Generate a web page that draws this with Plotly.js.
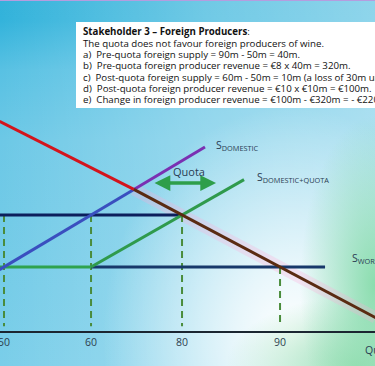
<!DOCTYPE html>
<html>
<head>
<meta charset="utf-8">
<script src="https://cdn.plot.ly/plotly-3.0.1.min.js"></script>
<style>
  html, body { margin: 0; padding: 0; }
  #chart {
    width: 375px; height: 366px;
    background:
      radial-gradient(ellipse 75px 170px at 100% 78%, rgba(135,220,170,0.95), rgba(135,220,170,0)),
      radial-gradient(ellipse 130px 70px at 95% 100%, rgba(150,222,178,0.9), rgba(150,222,178,0)),
      radial-gradient(ellipse 190px 230px at 78% 92%, rgba(255,255,255,1), rgba(255,255,255,0.75) 30%, rgba(255,255,255,0)),
      linear-gradient(to right, rgba(255,255,255,0) 0, rgba(255,255,255,0.3) 55%, rgba(255,255,255,0.45) 100%),
      linear-gradient(to bottom, #32b2da 0, #33b3db 20px, #58c1e3 70px, #6cc8e6 140px, #7acee9 100%);
  }
</style>
</head>
<body>
<div id="chart"></div>
<script>
// Quantity tick labels and their schematic positions on the (not-to-scale) axis
const qLabels = ['50', '60', '80', '90'];
const qPos = [0, 0.967, 1.978, 3.067];

// Prices (€)
const pWorld = 8;
const pQuota = 10;
const pAxis = 5.538;

// Demand curve: red part, then brown part after crossing S domestic
const demandRedQ = [-0.05, 1.443];
const demandRedP = [13.6, 10.983];
const demandBrownQ = [1.443, 4.13];
const demandBrownP = [10.983, 6.047];

// Domestic supply: blue lower part, purple upper part
const sDomBlueQ = [-0.05, 1.443];
const sDomBlueP = [7.897, 10.984];
const sDomPurpleQ = [1.443, 2.233];
const sDomPurpleP = [10.984, 12.618];

// Domestic + quota supply
const sQuotaQ = [0.967, 2.667];
const sQuotaP = [8, 11.36];

// World supply (green left segment, navy right segment)
const worldGreenQ = [-0.05, 0.967];
const worldNavyQ = [0.967, 3.567];

// Price with quota line
const quotaPriceQ = [-0.05, 1.978];

// Quota arrow span
const quotaArrowQ = [1.656, 2.356];
const quotaArrowP = 11.23;

const boxLines = [
  '<b>Stakeholder 3 – Foreign Producers</b>:',
  'The quota does not favour foreign producers of wine.',
  'a)  Pre-quota foreign supply = 90m - 50m = 40m.',
  'b)  Pre-quota foreign producer revenue = €8 x 40m = 320m.',
  'c)  Post-quota foreign supply = 60m - 50m = 10m (a loss of 30m units)',
  'd)  Post-quota foreign producer revenue = €10 x €10m = €100m.',
  'e)  Change in foreign producer revenue = €100m - €320m = - €220m'
];
const boxLineY = [32, 43.3, 54.6, 65.9, 77.2, 88.5, 99.8];

const traces = [];
// pink highlight glow along brown demand
traces.push({x: demandBrownQ, y: demandBrownP, mode: 'lines', line: {color: 'rgba(255,170,215,0.28)', width: 12}, hoverinfo: 'skip'});

// dashed verticals
const dashColor = '#4a8c3c';
[0, 1, 2].forEach(i => {
  traces.push({x: [qPos[i], qPos[i]], y: [pQuota, 5.72], mode: 'lines', line: {color: dashColor, width: 2, dash: '7px,5px'}, hoverinfo: 'skip'});
});
traces.push({x: [qPos[3], qPos[3]], y: [pWorld, 5.72], mode: 'lines', line: {color: dashColor, width: 2, dash: '7px,5px'}, hoverinfo: 'skip'});

// horizontal lines
traces.push({x: quotaPriceQ, y: [pQuota, pQuota], mode: 'lines', line: {color: '#0c1f5c', width: 3}, hoverinfo: 'skip'});
traces.push({x: worldNavyQ, y: [pWorld, pWorld], mode: 'lines', line: {color: '#17386a', width: 3}, hoverinfo: 'skip'});
traces.push({x: worldGreenQ, y: [pWorld, pWorld], mode: 'lines', line: {color: '#2ea24e', width: 3}, hoverinfo: 'skip'});

// supplies
traces.push({x: sDomBlueQ, y: sDomBlueP, mode: 'lines', line: {color: '#3a4fbf', width: 3}, hoverinfo: 'skip'});
traces.push({x: sDomPurpleQ, y: sDomPurpleP, mode: 'lines', line: {color: '#7a30b2', width: 3}, hoverinfo: 'skip'});
traces.push({x: sQuotaQ, y: sQuotaP, mode: 'lines', line: {color: '#2f9a4c', width: 3}, hoverinfo: 'skip'});

// demand
traces.push({x: demandRedQ, y: demandRedP, mode: 'lines', line: {color: '#d3141c', width: 3}, hoverinfo: 'skip'});
traces.push({x: demandBrownQ, y: demandBrownP, mode: 'lines', line: {color: '#5a2b12', width: 3}, hoverinfo: 'skip'});

const txtFont = {family: 'Open Sans, sans-serif', size: 9.7, color: '#111111'};
const annotations = boxLines.map((t, i) => ({
  xref: 'paper', yref: 'paper', x: 81 / 375, y: 1 - boxLineY[i] / 331,
  xanchor: 'left', yanchor: 'middle', showarrow: false, text: t, font: txtFont
}));

const lblFont = {family: 'Open Sans, sans-serif', size: 11, color: '#2a3c52'};
annotations.push(
  {x: quotaArrowQ[1], y: quotaArrowP, ax: quotaArrowQ[0], ay: quotaArrowP, axref: 'x', ayref: 'y', xref: 'x', yref: 'y',
   text: '', showarrow: true, arrowhead: 2, startarrowhead: 2, arrowside: 'end+start', arrowwidth: 3.5, arrowsize: 0.9, startarrowsize: 0.9, arrowcolor: '#2e9e4a', standoff: 0, startstandoff: 0},
  {x: 2.056, y: 11.66, xref: 'x', yref: 'y', text: 'Quota', showarrow: false, font: lblFont, yanchor: 'middle'},
  {x: 2.33, y: 12.69, xref: 'x', yref: 'y', text: 'S<sub>DOMESTIC</sub>', showarrow: false, xanchor: 'left', font: {family: 'Open Sans, sans-serif', size: 10.5, color: '#2a3c52'}},
  {x: 2.79, y: 11.44, xref: 'x', yref: 'y', text: 'S<sub>DOMESTIC+QUOTA</sub>', showarrow: false, xanchor: 'left', font: {family: 'Open Sans, sans-serif', size: 10.5, color: '#2a3c52'}},
  {x: 3.844, y: 8.33, xref: 'x', yref: 'y', text: 'S<sub>WORLD</sub>', showarrow: false, xanchor: 'left', font: {family: 'Open Sans, sans-serif', size: 10.5, color: '#2a3c52'}},
  {x: 363 / 375, y: 1 - 350 / 331, xref: 'paper', yref: 'paper', text: 'Quantity', showarrow: false, xanchor: 'left', yanchor: 'middle', font: {family: 'Open Sans, sans-serif', size: 10.5, color: '#2a3c52'}}
);

const layout = {
  width: 375, height: 366,
  margin: {l: 0, r: 0, t: 0, b: 35},
  paper_bgcolor: 'rgba(0,0,0,0)', plot_bgcolor: 'rgba(0,0,0,0)',
  showlegend: false,
  xaxis: {range: [-0.0444, 4.122], tickvals: qPos, ticktext: qLabels, showline: true, linecolor: '#1b2631', linewidth: 2,
          showgrid: false, zeroline: false, ticks: '', ticklabeloverflow: 'allow', fixedrange: true,
          tickfont: {family: 'Open Sans, sans-serif', size: 10.5, color: '#2d3e4e'}},
  yaxis: {range: [pAxis, 18.27], visible: false, showgrid: false, zeroline: false, fixedrange: true},
  shapes: [
    {type: 'rect', xref: 'paper', yref: 'paper', x0: 76 / 375, x1: 1.02, y0: 1 - 108 / 331, y1: 1 - 22 / 331, fillcolor: '#ffffff', line: {width: 0}, layer: 'below'},
    {type: 'line', xref: 'paper', yref: 'paper', x0: 0, x1: 1, y0: 1, y1: 1, line: {color: '#b59ddf', width: 2}}
  ],
  annotations: annotations
};

Plotly.newPlot('chart', traces, layout, {displayModeBar: false, staticPlot: true});
</script>
</body>
</html>
